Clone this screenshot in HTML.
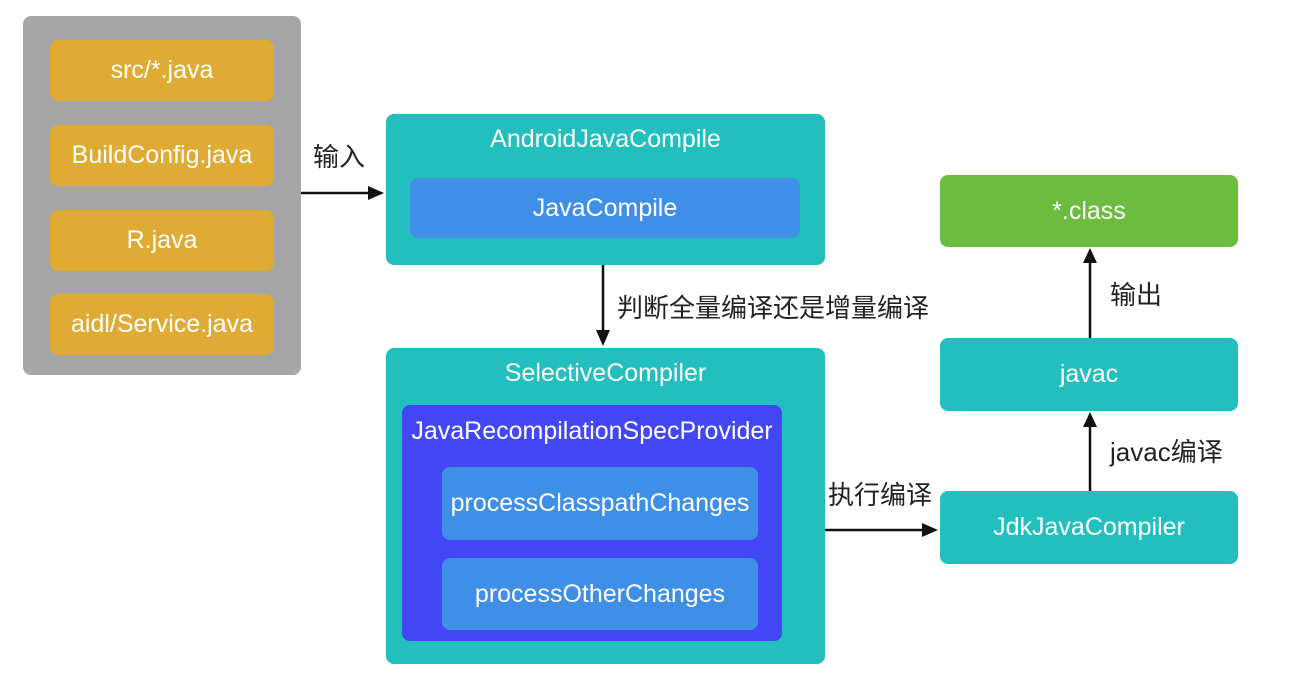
<!DOCTYPE html>
<html><head><meta charset="utf-8"><style>
body{margin:0;width:1290px;height:690px;background:#fff;position:relative;overflow:hidden;font-family:"Liberation Sans","Noto Sans CJK SC",sans-serif}
.b{position:absolute;border-radius:8px;color:#fff;display:flex;align-items:center;justify-content:center;font-size:25px;box-sizing:border-box;white-space:nowrap}
.o{background:#e0ab34;left:50px;width:224px;height:61px}
.t{background:#22bfbe}
.l{position:absolute;font-size:26px;color:#222;line-height:36px;white-space:nowrap}
</style></head><body>
<div class="b" style="left:23px;top:16px;width:278px;height:359px;background:#a6a6a6"></div>
<div class="b o" style="top:40px">src/*.java</div>
<div class="b o" style="top:125px">BuildConfig.java</div>
<div class="b o" style="top:210px">R.java</div>
<div class="b o" style="top:294px">aidl/Service.java</div>

<div class="b t" style="left:386px;top:114px;width:439px;height:151px;align-items:flex-start;padding-top:11px">AndroidJavaCompile</div>
<div class="b" style="left:410px;top:178px;width:390px;height:60px;background:#408fe6">JavaCompile</div>

<div class="b t" style="left:386px;top:348px;width:439px;height:316px;align-items:flex-start;padding-top:11px">SelectiveCompiler</div>
<div class="b" style="left:402px;top:405px;width:380px;height:236px;background:#4346f5;align-items:flex-start;padding-top:12px">JavaRecompilationSpecProvider</div>
<div class="b" style="left:442px;top:467px;width:316px;height:73px;background:#408fe6">processClasspathChanges</div>
<div class="b" style="left:442px;top:558px;width:316px;height:72px;background:#408fe6">processOtherChanges</div>

<div class="b" style="left:940px;top:175px;width:298px;height:72px;background:#6cbc3f">*.class</div>
<div class="b t" style="left:940px;top:338px;width:298px;height:73px">javac</div>
<div class="b t" style="left:940px;top:491px;width:298px;height:73px">JdkJavaCompiler</div>

<div class="l" style="left:313px;top:139px">输入</div>
<div class="l" style="left:617px;top:290px">判断全量编译还是增量编译</div>
<div class="l" style="left:828px;top:477px">执行编译</div>
<div class="l" style="left:1110px;top:277px">输出</div>
<div class="l" style="left:1110px;top:434px">javac编译</div>

<svg width="1290" height="690" style="position:absolute;left:0;top:0">
<g stroke="#111" stroke-width="2.5" fill="#111">
<line x1="301" y1="193" x2="370" y2="193"/><polygon points="384,193 368,186 368,200" stroke="none"/>
<line x1="603" y1="265" x2="603" y2="330"/><polygon points="603,346 596,330 610,330" stroke="none"/>
<line x1="825" y1="530" x2="922" y2="530"/><polygon points="938,530 922,523 922,537" stroke="none"/>
<line x1="1090" y1="491" x2="1090" y2="427"/><polygon points="1090,412 1083,427 1097,427" stroke="none"/>
<line x1="1090" y1="338" x2="1090" y2="263"/><polygon points="1090,248 1083,263 1097,263" stroke="none"/>
</g></svg>
</body></html>
